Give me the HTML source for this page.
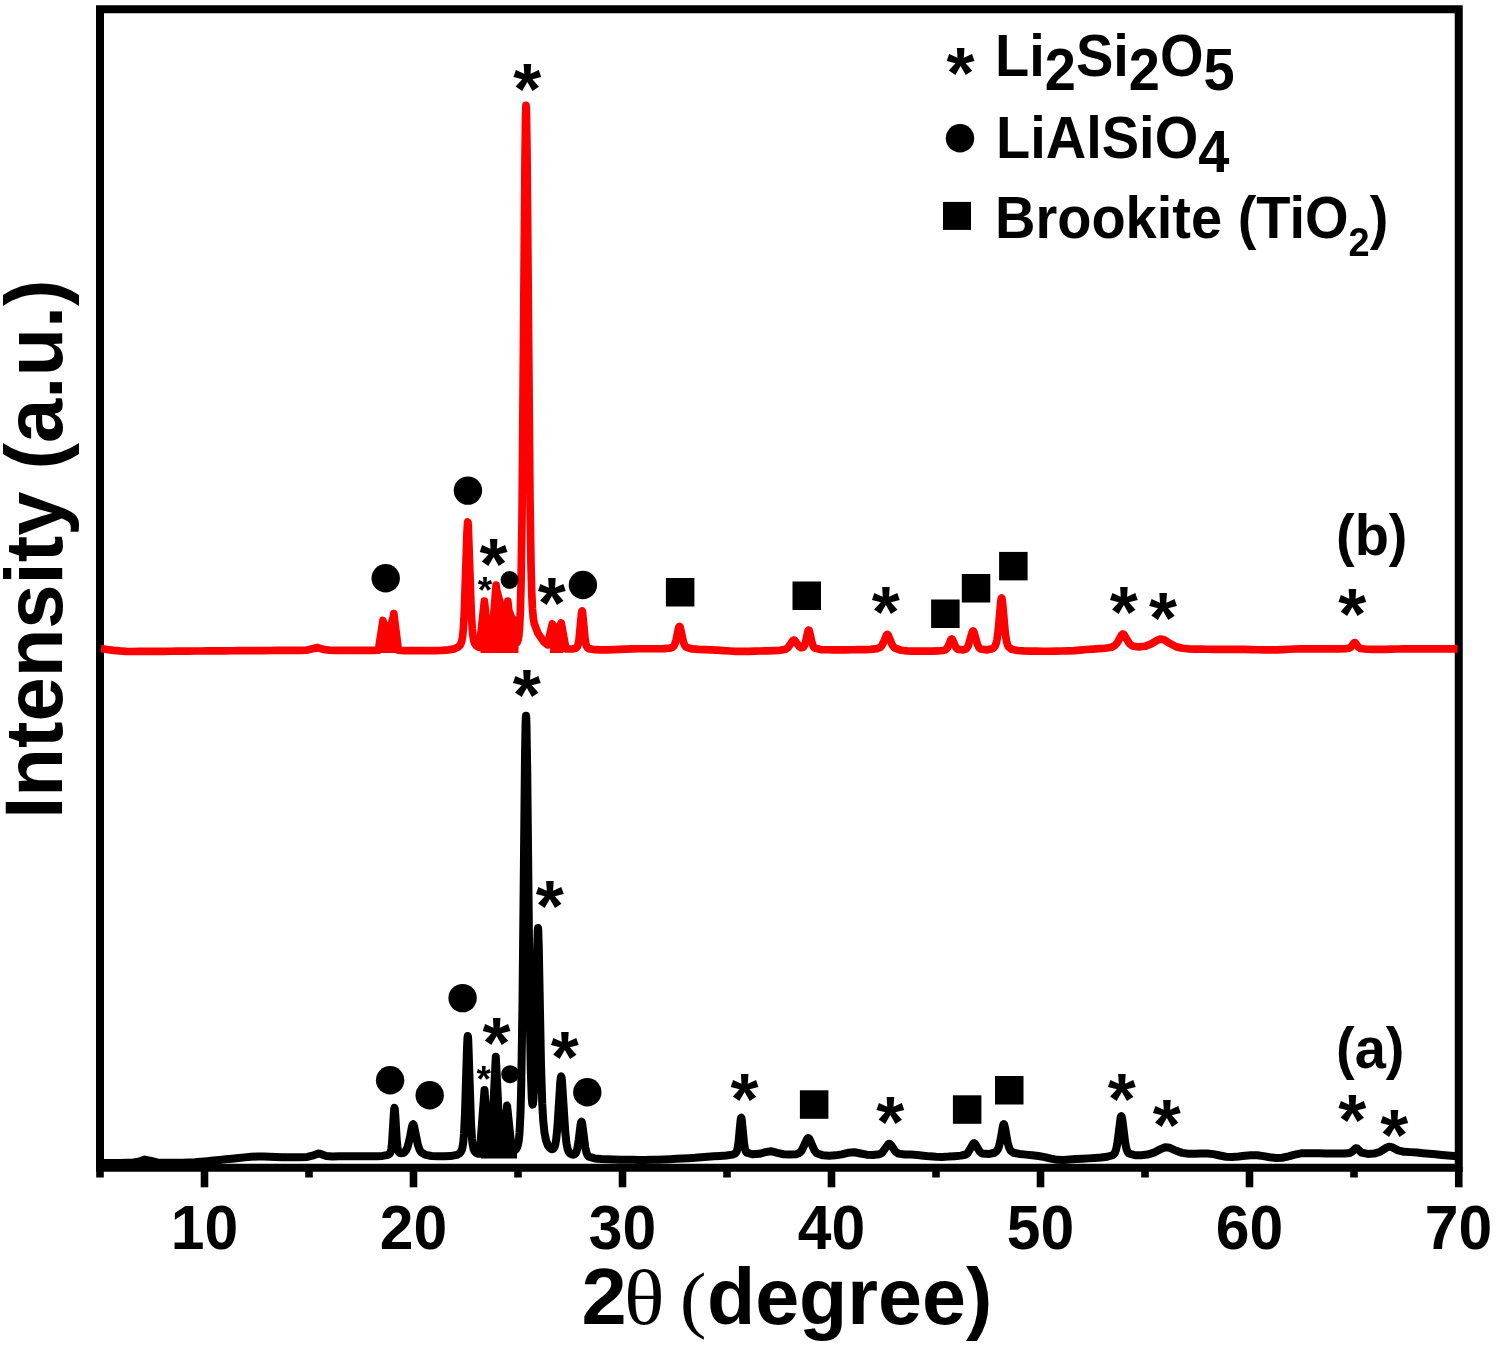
<!DOCTYPE html>
<html><head><meta charset="utf-8"><title>XRD patterns</title>
<style>
html,body{margin:0;padding:0;background:#fff;}
svg{display:block;}
text{font-family:"Liberation Sans",sans-serif;font-weight:bold;fill:#000;}
</style></head>
<body>
<svg width="1498" height="1345" viewBox="0 0 1498 1345">
<rect width="1498" height="1345" fill="#fff"/>
<g id="axes">
<rect x="100" y="9.25" width="1358.75" height="1158.5" fill="none" stroke="#000" stroke-width="8"/>
<line x1="100.00" y1="1167" x2="100.00" y2="1177.5" stroke="#000" stroke-width="7.6"/>
<line x1="204.50" y1="1167" x2="204.50" y2="1187.3" stroke="#000" stroke-width="7.6"/>
<line x1="309.00" y1="1167" x2="309.00" y2="1177.5" stroke="#000" stroke-width="7.6"/>
<line x1="413.50" y1="1167" x2="413.50" y2="1187.3" stroke="#000" stroke-width="7.6"/>
<line x1="518.00" y1="1167" x2="518.00" y2="1177.5" stroke="#000" stroke-width="7.6"/>
<line x1="622.50" y1="1167" x2="622.50" y2="1187.3" stroke="#000" stroke-width="7.6"/>
<line x1="727.00" y1="1167" x2="727.00" y2="1177.5" stroke="#000" stroke-width="7.6"/>
<line x1="831.50" y1="1167" x2="831.50" y2="1187.3" stroke="#000" stroke-width="7.6"/>
<line x1="936.00" y1="1167" x2="936.00" y2="1177.5" stroke="#000" stroke-width="7.6"/>
<line x1="1040.50" y1="1167" x2="1040.50" y2="1187.3" stroke="#000" stroke-width="7.6"/>
<line x1="1145.00" y1="1167" x2="1145.00" y2="1177.5" stroke="#000" stroke-width="7.6"/>
<line x1="1249.50" y1="1167" x2="1249.50" y2="1187.3" stroke="#000" stroke-width="7.6"/>
<line x1="1354.00" y1="1167" x2="1354.00" y2="1177.5" stroke="#000" stroke-width="7.6"/>
<line x1="1458.75" y1="1167" x2="1458.75" y2="1187.3" stroke="#000" stroke-width="7.6"/>
</g>
<g id="curves" fill="none" stroke-linejoin="round" stroke-linecap="butt">
<path d="M481.00 1158.50 L481.00 1136.57 L484.50 1090.00 L489.30 1153.98 L490.75 1153.82 L491.00 1153.72 L495.80 1056.80 L500.60 1153.50 L502.20 1153.75 L507.10 1105.60 L512.00 1152.15 L514.25 1151.07 L516.00 1149.28 L517.00 1147.47 L517.00 1158.50Z" fill="#000" stroke="none"/>
<path d="M380.50 653.00 L380.50 636.62 L383.00 620.50 L383.40 623.01 L387.60 630.25 L388.40 626.50 L389.20 630.24 L393.40 616.61 L393.80 613.50 L396.50 635.05 L396.50 653.00Z M480.50 653.00 L480.50 637.24 L484.40 601.20 L489.40 648.60 L491.10 648.56 L496.10 585.20 L496.40 588.88 L500.40 604.00 L501.10 618.84 L502.80 634.02 L504.40 633.66 L507.80 601.20 L508.80 610.31 L512.80 620.37 L513.00 619.00 L517.20 642.58 L518.00 640.31 L518.50 637.64 L518.50 653.00Z M550.00 653.00 L550.00 633.98 L552.30 624.00 L556.40 632.36 L556.80 631.00 L557.10 631.80 L561.20 623.00 L563.50 635.42 L563.50 653.00Z" fill="#fe0000" stroke="none"/>
<path d="M101.00 1162.95 L107.25 1162.94 L113.50 1162.92 L119.75 1162.89 L126.00 1162.83 L132.25 1162.65 L138.50 1161.71 L144.75 1159.62 L151.00 1160.87 L157.25 1162.43 L163.50 1162.78 L169.75 1162.86 L176.00 1162.84 L182.25 1162.69 L188.50 1162.48 L194.75 1162.21 L201.00 1161.77 L207.25 1161.21 L213.50 1160.58 L219.75 1159.93 L226.00 1159.30 L232.25 1158.74 L238.50 1158.08 L244.75 1157.39 L251.00 1156.81 L257.25 1156.47 L263.50 1156.46 L269.75 1156.66 L276.00 1156.96 L282.25 1157.23 L288.50 1157.37 L294.75 1157.33 L301.00 1157.21 L307.25 1156.93 L313.50 1155.47 L317.75 1153.56 L320.00 1153.83 L326.25 1156.10 L332.50 1156.40 L338.75 1156.35 L345.00 1156.28 L351.25 1156.25 L357.50 1156.26 L363.75 1156.30 L370.00 1156.31 L376.25 1156.23 L382.50 1155.94 L388.00 1154.86 L389.50 1153.88 L390.25 1152.82 L390.75 1151.53 L391.25 1149.36 L392.00 1143.31 L394.00 1111.10 L394.25 1108.67 L394.50 1107.80 L394.75 1108.63 L395.25 1114.59 L396.75 1139.91 L397.50 1147.20 L398.00 1149.90 L398.50 1151.46 L399.25 1152.61 L400.50 1153.26 L402.75 1153.12 L404.50 1152.17 L406.00 1150.43 L407.50 1147.25 L409.50 1139.64 L412.00 1126.58 L412.50 1124.94 L412.75 1124.45 L413.10 1124.20 L413.50 1124.55 L414.00 1125.87 L417.75 1144.41 L419.50 1149.53 L421.25 1152.30 L425.50 1154.85 L431.75 1155.95 L438.00 1156.32 L444.25 1156.37 L450.50 1156.09 L456.75 1154.91 L459.50 1153.37 L461.00 1151.61 L461.75 1150.05 L462.50 1147.37 L463.30 1142.05 L464.00 1133.74 L465.00 1112.96 L467.00 1047.71 L467.50 1037.77 L467.80 1036.00 L468.00 1036.79 L468.25 1039.91 L471.00 1122.59 L472.00 1138.87 L472.75 1145.28 L473.50 1148.76 L474.50 1151.15 L476.00 1152.85 L478.25 1153.85 L479.70 1153.86 L484.50 1090.00 L489.30 1153.98 L490.75 1153.82 L491.00 1153.72 L495.80 1056.80 L500.60 1153.50 L502.20 1153.75 L507.10 1105.60 L512.00 1152.15 L514.25 1151.07 L516.00 1149.28 L517.25 1147.02 L518.00 1144.65 L518.75 1140.57 L519.50 1133.07 L520.50 1112.77 L521.25 1084.59 L522.50 1001.97 L525.00 756.14 L525.50 726.64 L525.75 718.69 L526.00 715.80 L526.25 718.11 L526.50 725.49 L527.25 773.50 L529.75 1011.99 L530.75 1069.75 L531.75 1098.08 L532.25 1103.59 L532.50 1104.60 L532.75 1104.56 L533.00 1103.51 L533.50 1098.57 L534.25 1083.94 L535.25 1049.73 L537.25 944.99 L537.75 929.91 L538.00 928.00 L538.25 930.25 L538.75 946.02 L541.00 1064.78 L542.25 1103.65 L543.25 1120.93 L544.50 1132.83 L546.00 1140.35 L547.75 1145.12 L549.75 1148.00 L551.25 1149.02 L552.25 1149.20 L553.00 1148.98 L553.75 1148.33 L554.50 1146.99 L555.25 1144.59 L556.25 1138.85 L557.50 1126.01 L560.25 1082.55 L560.75 1077.89 L561.00 1076.76 L561.25 1076.53 L561.50 1077.22 L562.00 1081.16 L565.25 1131.94 L566.50 1143.45 L567.50 1148.57 L568.50 1151.39 L569.75 1153.20 L572.00 1154.50 L573.75 1154.64 L574.75 1154.25 L575.50 1153.52 L576.25 1152.16 L577.25 1148.84 L578.75 1139.55 L580.50 1125.25 L581.00 1122.62 L581.25 1121.92 L581.50 1121.70 L581.75 1121.98 L582.25 1123.93 L585.25 1147.29 L586.50 1152.82 L587.50 1155.15 L588.75 1156.59 L595.00 1158.48 L601.25 1159.04 L607.50 1159.33 L613.75 1159.52 L620.00 1159.66 L626.25 1159.76 L632.50 1159.84 L638.75 1159.89 L645.00 1159.89 L651.25 1159.81 L657.50 1159.64 L663.75 1159.42 L670.00 1159.15 L676.25 1158.84 L682.50 1158.51 L688.75 1158.18 L695.00 1157.81 L701.25 1157.29 L707.50 1156.73 L713.75 1156.27 L720.00 1155.96 L726.25 1155.54 L732.50 1154.65 L735.00 1153.62 L736.00 1152.66 L736.75 1151.28 L737.50 1148.74 L738.50 1142.39 L740.50 1121.01 L740.75 1119.13 L741.00 1117.99 L741.25 1117.72 L741.50 1118.33 L742.00 1121.87 L744.00 1143.04 L745.00 1148.93 L745.75 1151.23 L746.75 1152.72 L753.00 1154.35 L759.25 1153.84 L765.50 1152.12 L771.00 1151.23 L777.25 1152.87 L783.50 1154.24 L789.75 1154.55 L796.00 1154.18 L799.50 1152.94 L801.50 1150.97 L807.00 1139.23 L807.75 1138.30 L808.30 1138.10 L808.75 1138.26 L809.50 1139.15 L814.50 1150.52 L816.75 1153.27 L823.00 1155.33 L829.25 1155.63 L835.50 1155.35 L841.75 1154.37 L848.00 1152.81 L854.25 1152.28 L860.50 1153.52 L866.75 1154.65 L873.00 1154.99 L879.25 1154.30 L882.00 1152.85 L888.25 1144.25 L889.00 1143.82 L889.75 1143.93 L891.00 1145.14 L895.50 1151.66 L898.50 1153.61 L904.75 1154.43 L911.00 1154.61 L917.25 1155.02 L923.50 1155.68 L929.75 1156.36 L936.00 1156.85 L942.25 1156.91 L948.50 1156.60 L954.75 1156.15 L961.00 1155.63 L965.75 1154.51 L967.75 1153.03 L973.00 1143.91 L973.75 1143.20 L974.25 1143.11 L974.75 1143.34 L979.75 1151.65 L982.25 1153.58 L988.50 1154.07 L994.50 1152.73 L996.50 1151.30 L997.75 1149.52 L999.00 1146.42 L1000.75 1138.74 L1003.00 1125.77 L1003.50 1124.35 L1003.80 1124.10 L1004.00 1124.21 L1004.25 1124.64 L1005.00 1127.61 L1007.75 1143.15 L1009.25 1148.14 L1010.75 1150.78 L1013.50 1152.76 L1019.75 1154.04 L1026.00 1154.64 L1032.25 1155.31 L1038.50 1156.05 L1044.75 1157.08 L1051.00 1158.65 L1057.25 1159.85 L1063.50 1159.92 L1069.75 1159.47 L1076.00 1159.03 L1082.25 1158.70 L1088.50 1158.37 L1094.75 1157.99 L1101.00 1157.52 L1107.25 1156.77 L1112.50 1155.23 L1114.00 1154.05 L1115.00 1152.55 L1116.00 1149.93 L1117.25 1144.16 L1120.50 1118.48 L1121.00 1116.46 L1121.30 1116.10 L1121.50 1116.24 L1121.75 1116.84 L1122.50 1121.00 L1125.25 1143.14 L1126.50 1149.05 L1127.50 1151.71 L1128.75 1153.44 L1135.00 1155.27 L1141.25 1155.26 L1147.50 1154.55 L1153.75 1152.67 L1160.00 1149.40 L1165.25 1147.19 L1169.75 1147.78 L1176.00 1150.75 L1182.25 1152.89 L1188.50 1153.68 L1194.75 1153.76 L1201.00 1153.60 L1207.25 1153.52 L1213.50 1154.11 L1219.75 1155.49 L1226.00 1156.75 L1232.25 1157.02 L1238.50 1156.51 L1244.75 1155.76 L1251.00 1155.19 L1257.25 1155.26 L1263.50 1156.16 L1269.75 1157.30 L1276.00 1158.07 L1282.25 1157.77 L1288.50 1156.34 L1294.75 1154.58 L1301.00 1153.31 L1307.25 1153.13 L1313.50 1153.18 L1319.75 1153.27 L1326.00 1153.38 L1332.25 1153.49 L1338.50 1153.57 L1344.75 1153.55 L1350.00 1152.93 L1352.75 1151.11 L1355.50 1148.43 L1356.30 1148.20 L1357.25 1148.57 L1361.50 1152.61 L1367.75 1153.88 L1374.00 1153.59 L1380.25 1151.72 L1386.50 1147.64 L1389.00 1146.63 L1391.75 1147.08 L1398.00 1150.35 L1404.25 1151.81 L1410.50 1152.13 L1416.75 1152.54 L1423.00 1153.17 L1429.25 1153.81 L1435.50 1154.35 L1441.75 1154.90 L1448.00 1155.46 L1454.25 1156.04 L1457.50 1156.35" stroke="#000" stroke-width="8.0"/>
<path d="M101.00 648.49 L107.25 649.53 L113.50 650.34 L119.75 650.93 L126.00 651.38 L132.25 651.49 L138.50 651.47 L144.75 651.45 L151.00 651.41 L157.25 651.36 L163.50 651.30 L169.75 651.25 L176.00 651.19 L182.25 651.13 L188.50 651.07 L194.75 651.02 L201.00 650.98 L207.25 650.93 L213.50 650.89 L219.75 650.84 L226.00 650.79 L232.25 650.75 L238.50 650.70 L244.75 650.65 L251.00 650.61 L257.25 650.57 L263.50 650.53 L269.75 650.50 L276.00 650.47 L282.25 650.45 L288.50 650.43 L294.75 650.40 L301.00 650.33 L307.25 650.05 L313.50 648.41 L317.00 647.50 L323.25 649.38 L329.50 650.23 L335.75 650.35 L342.00 650.38 L348.25 650.40 L354.50 650.40 L360.75 650.40 L367.00 650.40 L373.25 650.37 L378.40 650.16 L383.00 620.50 L383.40 623.01 L387.60 630.25 L388.40 626.50 L389.20 630.24 L393.40 616.61 L393.80 613.50 L398.40 650.22 L404.50 650.56 L410.75 650.64 L417.00 650.67 L423.25 650.67 L429.50 650.63 L435.75 650.53 L442.00 650.33 L448.25 649.91 L454.50 648.84 L458.25 647.07 L460.00 645.29 L461.00 643.45 L461.75 641.09 L462.50 637.07 L463.25 630.19 L464.25 614.04 L467.00 532.24 L467.50 523.53 L467.80 522.00 L468.00 522.68 L468.25 525.38 L471.25 611.76 L472.25 628.81 L473.00 636.14 L473.75 640.43 L474.75 643.50 L476.25 645.69 L479.00 647.31 L479.40 647.41 L484.40 601.20 L489.40 648.60 L491.10 648.56 L496.10 585.20 L496.40 588.88 L500.40 604.00 L501.10 618.84 L502.80 634.02 L504.40 633.66 L507.80 601.20 L508.80 610.31 L512.80 620.37 L513.00 619.00 L517.20 642.58 L518.00 640.31 L518.75 636.30 L519.50 628.46 L520.25 613.28 L521.00 585.72 L522.00 519.90 L525.00 159.56 L525.50 120.78 L525.75 109.85 L526.00 105.30 L526.25 107.33 L526.50 115.86 L527.00 150.71 L530.00 499.77 L531.00 565.32 L531.75 593.23 L532.50 609.00 L533.25 617.61 L534.25 623.63 L538.00 633.41 L544.00 642.05 L547.50 644.84 L552.30 624.00 L556.40 632.36 L556.80 631.00 L557.10 631.80 L561.20 623.00 L566.00 648.92 L572.25 649.01 L575.75 648.24 L576.75 647.51 L577.50 646.34 L578.25 644.04 L579.00 639.84 L581.50 613.45 L581.75 611.86 L582.00 611.07 L582.10 611.00 L582.25 611.16 L582.50 612.13 L585.00 638.41 L585.75 643.26 L586.50 646.02 L587.25 647.45 L588.75 648.61 L595.00 649.69 L601.25 649.92 L607.50 649.89 L613.75 649.68 L620.00 649.40 L626.25 649.10 L632.50 648.87 L638.75 648.75 L645.00 648.75 L651.25 648.75 L657.50 648.73 L663.75 648.63 L670.00 648.11 L672.50 647.25 L673.75 646.08 L674.75 644.28 L676.00 640.37 L678.75 627.62 L679.25 626.54 L679.50 626.40 L679.75 626.55 L680.25 627.65 L683.50 642.33 L684.75 645.50 L686.00 647.12 L692.25 648.93 L698.50 649.37 L704.75 649.63 L711.00 649.83 L717.25 650.16 L723.50 650.59 L729.75 651.01 L736.00 651.30 L742.25 651.36 L748.50 651.28 L754.75 651.15 L761.00 650.99 L767.25 650.82 L773.50 650.63 L779.75 650.31 L785.80 649.21 L788.00 647.64 L792.75 640.62 L793.50 640.06 L794.00 640.01 L794.75 640.41 L799.25 646.54 L801.00 647.63 L802.25 647.70 L803.25 647.17 L804.25 645.82 L805.25 643.22 L808.00 631.14 L808.50 630.09 L808.75 630.01 L809.00 630.23 L809.50 631.52 L812.25 643.79 L813.25 646.37 L814.50 648.04 L820.75 649.56 L827.00 649.77 L833.25 649.80 L839.50 649.80 L845.75 649.78 L852.00 649.76 L858.25 649.71 L864.50 649.61 L870.75 649.37 L877.00 648.69 L880.00 647.49 L881.75 645.74 L884.00 641.39 L886.25 635.61 L886.75 634.80 L887.25 634.42 L887.50 634.42 L888.00 634.79 L892.50 645.39 L894.50 647.91 L900.75 650.22 L907.00 650.86 L913.25 651.13 L919.50 651.19 L925.75 651.19 L932.00 651.14 L938.25 650.97 L944.50 650.21 L946.25 649.18 L947.75 647.14 L950.75 639.98 L951.25 639.24 L951.75 639.00 L952.25 639.32 L956.00 647.53 L957.75 649.33 L963.25 649.90 L965.75 649.07 L967.00 647.93 L968.25 645.79 L972.25 632.11 L972.75 631.20 L973.10 631.00 L973.50 631.25 L974.00 632.22 L977.50 644.62 L979.00 647.57 L980.50 648.97 L986.75 649.86 L992.25 648.71 L994.00 647.53 L995.00 646.22 L996.00 643.86 L997.00 639.62 L998.25 630.31 L1000.75 601.95 L1001.25 598.71 L1001.50 598.06 L1001.60 598.00 L1001.75 598.13 L1002.00 598.93 L1002.50 602.41 L1005.25 633.08 L1006.50 641.24 L1007.50 644.84 L1008.75 647.18 L1011.50 649.18 L1017.75 650.52 L1024.00 650.93 L1030.25 651.11 L1036.50 651.21 L1042.75 651.25 L1049.00 651.23 L1055.25 651.15 L1061.50 651.02 L1067.75 650.86 L1074.00 650.61 L1080.25 650.12 L1086.50 649.54 L1092.75 649.04 L1099.00 648.70 L1105.25 648.25 L1111.50 647.27 L1114.75 645.63 L1117.50 642.39 L1121.50 635.06 L1122.25 634.25 L1123.00 634.00 L1123.75 634.37 L1129.50 643.69 L1132.50 645.99 L1138.75 646.95 L1145.00 646.29 L1151.25 643.90 L1157.50 640.11 L1160.75 639.02 L1164.00 639.66 L1170.25 643.68 L1176.50 646.87 L1182.75 648.28 L1189.00 648.82 L1195.25 649.07 L1201.50 649.19 L1207.75 649.26 L1214.00 649.31 L1220.25 649.34 L1226.50 649.37 L1232.75 649.38 L1239.00 649.40 L1245.25 649.45 L1251.50 649.58 L1257.75 649.75 L1264.00 649.88 L1270.25 649.94 L1276.50 649.82 L1282.75 649.56 L1289.00 649.26 L1295.25 649.02 L1301.50 648.95 L1307.75 648.95 L1314.00 648.95 L1320.25 648.95 L1326.50 648.94 L1332.75 648.92 L1339.00 648.88 L1345.25 648.75 L1349.25 648.18 L1351.00 646.99 L1354.00 642.93 L1354.50 642.63 L1355.00 642.67 L1355.75 643.36 L1358.50 647.25 L1360.50 648.54 L1366.75 649.25 L1373.00 649.40 L1379.25 649.41 L1385.50 649.28 L1391.75 649.12 L1398.00 648.99 L1404.25 648.95 L1410.50 648.91 L1416.75 648.88 L1423.00 648.86 L1429.25 648.83 L1435.50 648.81 L1441.75 648.80 L1448.00 648.79 L1454.25 648.79 L1457.50 648.79" stroke="#fe0000" stroke-width="7.7"/>
</g>
<g id="markers" fill="#000">
<circle cx="385.7" cy="578.2" r="14.2"/>
<circle cx="467.9" cy="490.6" r="14.2"/>
<text x="479.5" y="589.4" style="font-size:72px;font-weight:bold">*</text>
<text x="477.8" y="603.1" style="font-size:37px;font-weight:bold">*</text>
<circle cx="509.6" cy="580.0" r="9"/>
<text x="537.7" y="627.6" style="font-size:72px;font-weight:bold">*</text>
<circle cx="582.9" cy="585.0" r="14.2"/>
<text x="513.3" y="113.8" style="font-size:72px;font-weight:bold">*</text>
<rect x="665.9" y="578.0" width="28.5" height="28.5"/>
<rect x="792.5" y="581.5" width="28.5" height="28.5"/>
<text x="871.7" y="637.2" style="font-size:72px;font-weight:bold">*</text>
<rect x="931.1" y="599.5" width="28.5" height="28.5"/>
<rect x="961.8" y="574.0" width="28.5" height="28.5"/>
<rect x="999.1" y="551.9" width="28.5" height="28.5"/>
<text x="1109.8" y="637.2" style="font-size:72px;font-weight:bold">*</text>
<text x="1148.9" y="642.8" style="font-size:72px;font-weight:bold">*</text>
<text x="1338.2" y="639.2" style="font-size:72px;font-weight:bold">*</text>
<text x="512.8" y="720.4" style="font-size:72px;font-weight:bold">*</text>
<text x="535.8" y="930.8" style="font-size:72px;font-weight:bold">*</text>
<circle cx="390.1" cy="1080.2" r="14.2"/>
<circle cx="429.7" cy="1095.2" r="14.2"/>
<circle cx="462.6" cy="998.1" r="14.2"/>
<text x="482.5" y="1067.5" style="font-size:72px;font-weight:bold">*</text>
<text x="476.4" y="1091.7" style="font-size:37px;font-weight:bold">*</text>
<circle cx="510.2" cy="1074.2" r="9"/>
<text x="550.8" y="1081.5" style="font-size:72px;font-weight:bold">*</text>
<circle cx="587.3" cy="1092.2" r="14.2"/>
<text x="730.5" y="1124.1" style="font-size:72px;font-weight:bold">*</text>
<rect x="799.9" y="1090.3" width="28.5" height="28.5"/>
<text x="876.3" y="1147.1" style="font-size:72px;font-weight:bold">*</text>
<rect x="952.9" y="1095.3" width="28.5" height="28.5"/>
<rect x="995.0" y="1076.0" width="28.5" height="28.5"/>
<text x="1107.8" y="1124.1" style="font-size:72px;font-weight:bold">*</text>
<text x="1152.7" y="1150.1" style="font-size:72px;font-weight:bold">*</text>
<text x="1338.2" y="1145.2" style="font-size:72px;font-weight:bold">*</text>
<text x="1380.2" y="1160.2" style="font-size:72px;font-weight:bold">*</text>
<text x="946.5" y="98.1" style="font-size:72px;font-weight:bold">*</text>
<circle cx="960.0" cy="138.2" r="14.2"/>
<rect x="943.0" y="201.9" width="28" height="28"/>
</g>
<g id="labels">
<text transform="translate(204.5,1248.6) scale(1.01,1.05)" font-size="60" text-anchor="middle" >10</text>
<text transform="translate(413.5,1248.6) scale(1.01,1.05)" font-size="60" text-anchor="middle" >20</text>
<text transform="translate(622.5,1248.6) scale(1.01,1.05)" font-size="60" text-anchor="middle" >30</text>
<text transform="translate(831.5,1248.6) scale(1.01,1.05)" font-size="60" text-anchor="middle" >40</text>
<text transform="translate(1040.5,1248.6) scale(1.01,1.05)" font-size="60" text-anchor="middle" >50</text>
<text transform="translate(1249.5,1248.6) scale(1.01,1.05)" font-size="60" text-anchor="middle" >60</text>
<text transform="translate(1458.5,1248.6) scale(1.01,1.05)" font-size="60" text-anchor="middle" >70</text>
<text transform="translate(995.0,76.1) scale(1.0,1.05)" font-size="56" text-anchor="start" >Li<tspan dy="13.5">2</tspan><tspan dy="-13.5">Si</tspan><tspan dy="13.5">2</tspan><tspan dy="-13.5">O</tspan><tspan dy="13.5">5</tspan></text>
<text transform="translate(996.0,158.2) scale(1.0,1.05)" font-size="56" text-anchor="start" >LiAlSiO<tspan dy="13.5">4</tspan></text>
<text transform="translate(995.0,238.3) scale(1.0,1.05)" font-size="56" text-anchor="start" >Brookite (TiO<tspan dy="17" font-size="38">2</tspan><tspan dy="-17">)</tspan></text>
<text transform="translate(1336.0,555.1) scale(1.0,1.04)" font-size="56" text-anchor="start" >(b)</text>
<text transform="translate(1336.0,1068.1) scale(1.0,1.04)" font-size="56" text-anchor="start" >(a)</text>
<text y="1323.7" font-size="79.5"><tspan x="581.4" textLength="45.2" lengthAdjust="spacingAndGlyphs">2</tspan><tspan x="624" y="1324.2" textLength="40.5" lengthAdjust="spacingAndGlyphs" style="font-size:77.5px;font-weight:normal;font-family:'Liberation Serif',serif">θ</tspan><tspan x="662" y="1323.6" style="font-size:40px;font-weight:normal;font-family:'Liberation Serif',serif"> </tspan><tspan x="679.8" y="1323.6" textLength="26.7" lengthAdjust="spacingAndGlyphs" style="font-size:73px;font-weight:normal;font-family:'Liberation Serif',serif">(</tspan><tspan x="706.9" y="1323.6" textLength="285.4" lengthAdjust="spacingAndGlyphs">degree)</tspan></text>
<text transform="translate(61.7,818.8) rotate(-90) scale(1.014,1.035)" font-size="78.5">Intensity (a.u.)</text>
</g>
</svg>
</body></html>
